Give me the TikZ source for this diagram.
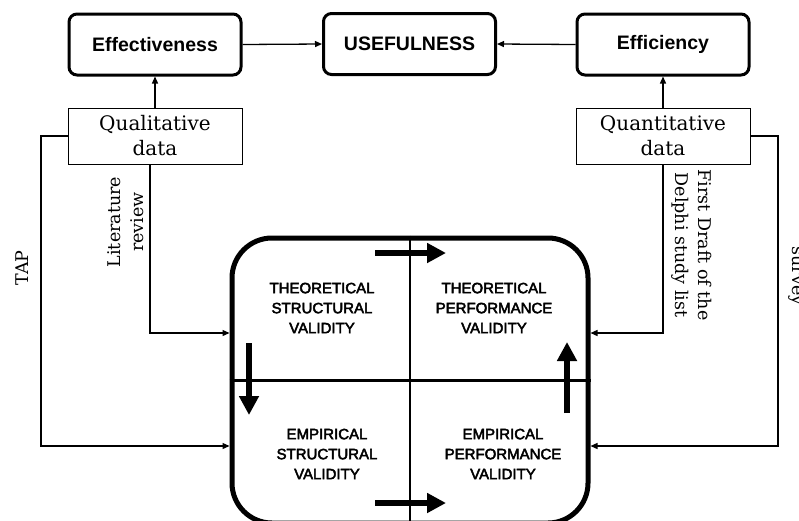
\documentclass[tikz,border=0pt]{standalone}
\usepackage{fontspec}
\setmainfont{DejaVu Serif}
\newfontfamily\labelsans{Liberation Sans}
\newfontfamily\quadsans[FakeBold=3]{Liberation Sans}
\usetikzlibrary{arrows.meta,calc}
\begin{document}
\begin{tikzpicture}[x=1pt,y=-1pt,
  topbox/.style={draw,line width=3pt,rounded corners=8pt,minimum width=172pt,minimum height=61pt,inner sep=0pt,font=\labelsans\bfseries\fontsize{19.5}{22}\selectfont},
  databox/.style={draw,line width=1pt,minimum width=174pt,minimum height=56pt,inner sep=0pt,align=center,font=\fontsize{20}{25}\selectfont},
  quad/.style={align=center,inner sep=0pt,font=\quadsans\fontsize{15}{20}\selectfont},
  thinarrow/.style={line width=1.3pt,-{Triangle[length=7pt,width=6pt]}},
  bigarrow/.style={line width=6pt,-{Triangle[length=19pt,width=19pt]}},
  sidelabel/.style={inner sep=0pt,align=center,font=\fontsize{17.5}{23}\selectfont}]
\clip (0,0) rectangle (799,520);
\fill[white] (0,0) rectangle (799,520);
% top row
\node[topbox] (eff) at (155,44.5) {Effectiveness};
\node[topbox] (use) at (409.5,44) {USEFULNESS};
\node[topbox] (effi) at (663,44.5) {Efficiency};
\draw[thinarrow] (eff.east) -- (use.west);
\draw[thinarrow] (effi.west) -- (use.east);
% data boxes
\node[databox] (qual) at (155,136) {Qualitative\\data};
\node[databox] (quan) at (663,136) {Quantitative\\data};
\draw[thinarrow] (qual.north) -- (eff.south);
\draw[thinarrow] (quan.north) -- (effi.south);
% big frame
\node[draw,line width=5pt,rounded corners=40pt,minimum width=356pt,minimum height=285pt,inner sep=0pt] (frame) at (410,380.5) {};
\draw[line width=2.5pt] (frame.north) -- (frame.south);
\draw[line width=2.5pt] (frame.west) -- (frame.east);
\node[quad] (tsv) at (322,308) {THEORETICAL\\STRUCTURAL\\VALIDITY};
\node[quad] (tpv) at (494,308) {THEORETICAL\\PERFORMANCE\\VALIDITY};
\node[quad] (esv) at (327,454) {EMPIRICAL\\STRUCTURAL\\VALIDITY};
\node[quad] (epv) at (503,454) {EMPIRICAL\\PERFORMANCE\\VALIDITY};
% big arrows
\coordinate (ta1) at (375,253); \coordinate (ta2) at (446,253);
\coordinate (ba1) at (375,503); \coordinate (ba2) at (446,503);
\coordinate (la1) at (249,343); \coordinate (la2) at (249,415);
\coordinate (ra1) at (567,413); \coordinate (ra2) at (567,342);
\draw[bigarrow] (ta1) -- (ta2);
\draw[bigarrow] (ba1) -- (ba2);
\draw[bigarrow] (la1) -- (la2);
\draw[bigarrow] (ra1) -- (ra2);
% connectors to frame
\draw[thinarrow] ([xshift=-5pt]qual.south) |- ([yshift=47.5pt]frame.west);
\draw[thinarrow] (qual.west) -| (41,300) |- ([yshift=-65.5pt]frame.west);
\draw[thinarrow] (quan.south) |- ([yshift=47.5pt]frame.east);
\draw[thinarrow] (quan.east) -| (778,300) |- ([yshift=-65.5pt]frame.east);
% side labels
\node[sidelabel,rotate=90,anchor=base] (tap) at (28,268) {TAP};
\node[sidelabel,rotate=90] (lit) at (126,222) {Literature\\review};
\node[sidelabel,rotate=-90] (delphi) at (692,245) {First Draft of the\\Delphi study list};
\node[sidelabel,rotate=-90,anchor=base] (survey) at (792,276) {survey};
\end{tikzpicture}
\end{document}
